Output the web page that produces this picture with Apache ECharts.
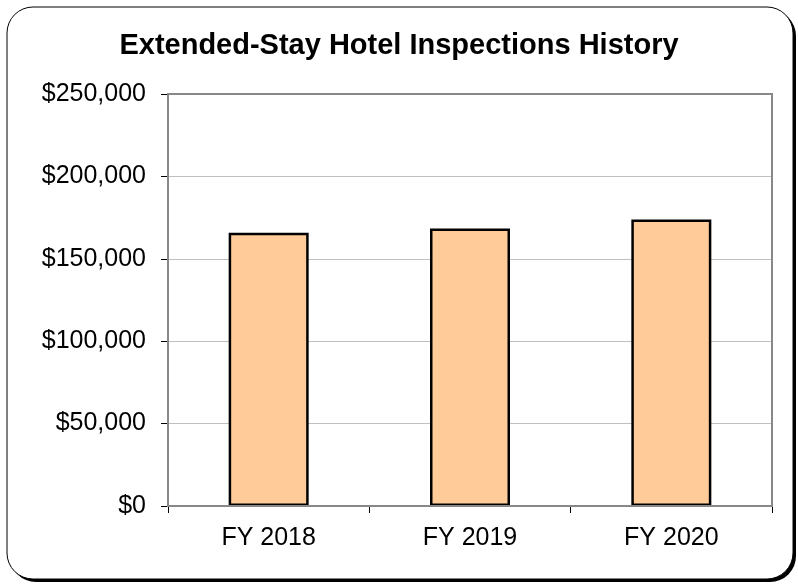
<!DOCTYPE html>
<html>
<head>
<meta charset="utf-8">
<script src="https://cdn.jsdelivr.net/npm/echarts@6/dist/echarts.min.js"></script>
<style>
  html, body { margin: 0; padding: 0; background: #fff; }
  #chart { width: 798px; height: 584px; }
</style>
</head>
<body>
<div id="chart"></div>
<script>
// data
var categories = ['FY 2018', 'FY 2019', 'FY 2020'];
var costs = [165800, 168400, 173900];
var yTicks = [0, 50000, 100000, 150000, 200000, 250000];

var chart = echarts.init(document.getElementById('chart'));

function money(v) {
    return '$' + v.toString().replace(/\B(?=(\d{3})+(?!\d))/g, ',');
}

var font = 'Liberation Sans, Arial, sans-serif';

var option = {
    backgroundColor: '#fff',
    animation: false,
    graphic: [
        // shadow of the frame
        {
            type: 'rect', z: -10,
            shape: { x: 10, y: 10, width: 786, height: 572, r: 26 },
            style: { fill: '#000' }
        },
        // frame
        {
            type: 'rect', z: -9,
            shape: { x: 7, y: 7, width: 786, height: 572, r: 26 },
            style: { fill: '#fff', stroke: '#000', lineWidth: 1 }
        },
        // plot area border
        {
            type: 'rect', z: 5,
            shape: { x: 168, y: 94, width: 604, height: 412 },
            style: { fill: 'none', stroke: '#888', lineWidth: 2 }
        }
    ],
    title: {
        text: 'Extended-Stay Hotel Inspections History',
        left: 'center',
        top: 26,
        textStyle: {
            fontFamily: font,
            fontSize: 29,
            fontWeight: 'bold',
            color: '#000'
        }
    },
    grid: {
        left: 168,
        right: 26,
        top: 94,
        bottom: 78,
        containLabel: false
    },
    xAxis: {
        type: 'category',
        data: categories,
        axisLine: { show: true, lineStyle: { color: '#888', width: 2 } },
        axisTick: { show: true, inside: false, length: 7, lineStyle: { color: '#000' } },
        axisLabel: {
            margin: 20,
            fontFamily: font,
            fontSize: 25,
            color: '#000'
        }
    },
    yAxis: {
        type: 'value',
        min: yTicks[0],
        max: yTicks[yTicks.length - 1],
        interval: yTicks[1] - yTicks[0],
        axisLine: { show: true, lineStyle: { color: '#333', width: 2 } },
        axisTick: { show: true, inside: false, length: 7, lineStyle: { color: '#000' } },
        splitLine: { show: true, lineStyle: { color: '#c0c0c0', width: 1 } },
        axisLabel: {
            margin: 22,
            fontFamily: font,
            fontSize: 25,
            color: '#000',
            formatter: money
        }
    },
    series: [
        {
            type: 'bar',
            data: costs,
            barWidth: 80,
            itemStyle: {
                color: '#FFCC99',
                borderColor: '#000',
                borderWidth: 2.5
            }
        }
    ]
};

chart.setOption(option);
</script>
</body>
</html>
